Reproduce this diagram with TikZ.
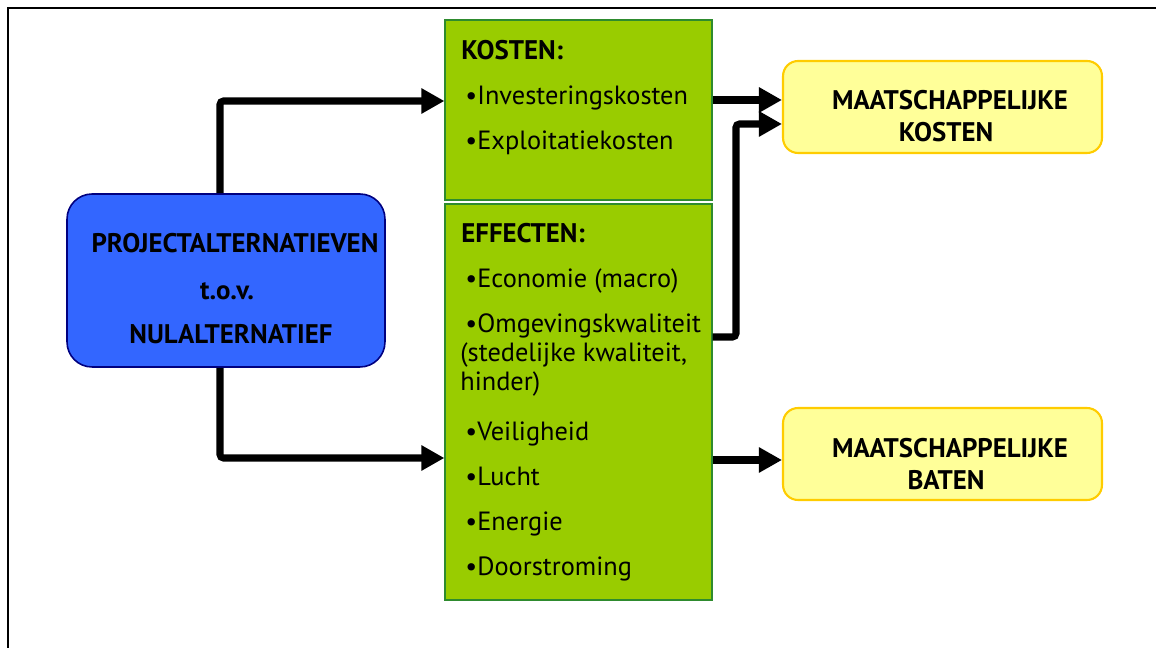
\documentclass[tikz,border=0pt]{standalone}
\usepackage{fontspec}
\setmainfont{PT Sans}
\usepackage{xcolor}
\usetikzlibrary{positioning,arrows.meta,calc}
\definecolor{projblue}{HTML}{3366FF}
\definecolor{projline}{HTML}{000080}
\definecolor{effgreen}{HTML}{99CC00}
\definecolor{effline}{HTML}{2E8B2E}
\definecolor{resyellow}{HTML}{FFFF99}
\definecolor{resline}{HTML}{FFCC00}
\tikzset{
	flow/.style = {
		line width=4pt, rounded corners=2pt,
		-{Triangle[length=0.46cm,width=0.48cm]}
	}
}
\newcommand{\bul}{\makebox[0.24cm][l]{\textbullet}}

\begin{document}
\begin{tikzpicture}[
		x=0.02cm, y=-0.02cm,
		projbox/.style={draw=projline, fill=projblue, line width=0.9pt,
			rounded corners=0.5cm, minimum width=6.36cm, minimum height=3.46cm},
		effbox/.style={draw=effline, fill=effgreen, line width=0.7pt,
			minimum width=5.34cm},
		resbox/.style={draw=resline, fill=resyellow, line width=1.2pt,
			rounded corners=0.3cm, minimum width=6.38cm, minimum height=1.84cm},
		head/.style={anchor=base, inner sep=0, font=\fontsize{15.3}{18}\selectfont\bfseries},
		item/.style={anchor=base west, inner sep=0, font=\fontsize{15}{18}\selectfont}
	]
    \useasboundingbox (0,0) rectangle (1156,648);
    % frame
    \draw[line width=1.7pt] (8,648) -- (8,8) -- (1156,8);

    \node[projbox] (proj) at (226,280.5) {};
    \node[effbox, minimum height=3.6cm]  (kosten) at (578.5,110) {};
    \node[effbox, minimum height=7.92cm] (effect) at (578.5,402) {};
    \node[resbox] (reskost) at (942.5,107) {};
    \node[resbox] (resbaat) at (942.5,454) {};

    % texts
    \node[head] (projt1) at (235,253) {PROJECTALTERNATIEVEN};
    \node[head] (projt2) at (227,300) {t.o.v.};
    \node[head] (projt3) at (231,344) {NULALTERNATIEF};
    \node[head] (kostt1) at (950,110) {MAATSCHAPPELIJKE};
    \node[head] (kostt2) at (946,142) {KOSTEN};
    \node[head] (baatt1) at (950,457) {MAATSCHAPPELIJKE};
    \node[head] (baatt2) at (946,489) {BATEN};

    \node[head, anchor=base west] (kosthead) at (461,60) {KOSTEN:};
    \foreach \y/\t in {105/Investeringskosten, 150/Exploitatiekosten}
        \node[item] at (465,\y) {\bul\t};
    \node[head, anchor=base west] (effhead) at (461,243) {EFFECTEN:};
    \foreach \y/\t in {288/Economie (macro), 333/Omgevingskwaliteit,
            440/Veiligheid, 485/Lucht, 530/Energie, 575/Doorstroming}
        \node[item] at (465,\y) {\bul\t};
    \node[item] at (460,362) {(stedelijke kwaliteit,};
    \node[item] at (460,391) {hinder)};

    % connectors
    \draw[flow] ($(proj.north)+(-6,0)$) |- ($(kosten.west)+(0,-9)$);
    \draw[flow] ($(proj.south)+(-6,0)$) |- ($(effect.west)+(0,56)$);
    \draw[flow] ($(kosten.east)+(0,-10)$) -- ($(reskost.west)+(0,-7)$);
    \draw[flow] ($(effect.east)+(0,-65)$) -| ($(reskost.west)+(-46,17)$)
        -- ($(reskost.west)+(0,17)$);
    \draw[flow] ($(effect.east)+(0,58)$) -- ($(resbaat.west)+(0,6)$);

\end{tikzpicture}
\end{document}
